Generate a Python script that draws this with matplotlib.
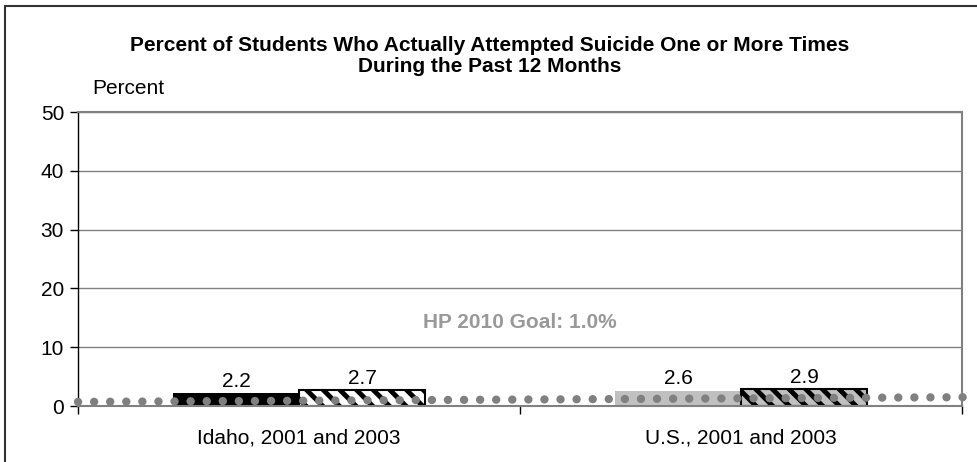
import numpy as np
import matplotlib
matplotlib.use("Agg")
import matplotlib.pyplot as plt
from matplotlib.patches import Rectangle

# Chart data
categories = ["Idaho, 2001 and 2003", "U.S., 2001 and 2003"]
values_2001 = [2.2, 2.6]
values_2003 = [2.7, 2.9]
goal_line = [0.7, 1.5]   # dotted HP 2010 goal line, left and right end
goal_label = "HP 2010 Goal: 1.0%"
title = ("Percent of Students Who Actually Attempted Suicide One or More Times\n"
         "During the Past 12 Months")
y_ticks = [0, 10, 20, 30, 40, 50]

plt.rcParams["font.family"] = ["Liberation Sans", "DejaVu Sans"]
plt.rcParams["hatch.linewidth"] = 3.5

figure = plt.figure(figsize=(9.77, 4.62), dpi=100)
axes = figure.add_axes([78/977, 56/462, 884/977, 294/462])

# Outer border of the chart (only top and left edges are visible)
figure.patches.append(Rectangle((5/977, -0.1), 1.2, (462-6)/462 + 0.1,
                                transform=figure.transFigure, fill=False,
                                edgecolor="#333333", linewidth=1.5))

x = np.arange(len(categories))
width = 0.285

# Bars
axes.bar(x[0] - width/2, values_2001[0], width, color="black", zorder=2)
axes.bar(x[0] + width/2, values_2003[0], width, color="white", edgecolor="black",
         linewidth=1.5, hatch="\\\\", zorder=2)
axes.bar(x[1] - width/2, values_2001[1], width, color="#c0c0c0", zorder=2)
axes.bar(x[1] + width/2, values_2003[1], width, color="#c0c0c0", edgecolor="black",
         linewidth=1.5, hatch="\\\\", zorder=2)

# Value labels
for i in range(len(categories)):
    axes.text(x[i] - width/2, values_2001[i] + 0.4, f"{values_2001[i]:.1f}",
              ha="center", va="bottom", fontsize=15)
    axes.text(x[i] + width/2, values_2003[i] + 0.4, f"{values_2003[i]:.1f}",
              ha="center", va="bottom", fontsize=15)

axes.set_xlim(-0.5, 1.5)
axes.set_ylim(0, 50)

# Goal line
axes.plot([-0.5, 1.51], goal_line, color="#808080", linewidth=6,
          linestyle=(0, (0.01, 1.92)), dash_capstyle="round", zorder=3, clip_on=False)
axes.text(0.5, 14.2, goal_label, ha="center", va="center", fontsize=15,
          fontweight="bold", color="#999999")

# Grid and spines
axes.set_yticks(y_ticks)
axes.set_yticklabels([str(t) for t in y_ticks], fontsize=15)
axes.yaxis.grid(True, color="#808080", linewidth=1)
axes.set_axisbelow(True)
axes.tick_params(axis="y", direction="out", length=6, width=1, color="black", pad=4)

axes.set_xticks([-0.5, 0.5, 1.5])
axes.set_xticklabels([])
axes.set_xticks(x, minor=True)
axes.set_xticklabels(categories, minor=True, fontsize=15)
axes.tick_params(axis="x", which="major", direction="out", length=6, width=1, color="black")
axes.tick_params(axis="x", which="minor", length=0, pad=16)

axes.spines["left"].set_color("black")
axes.spines["left"].set_linewidth(1)
for side in ["top", "right", "bottom"]:
    axes.spines[side].set_color("#808080")
    axes.spines[side].set_linewidth(1.5)

figure.text(490/977, 1 - 56/462, title, ha="center", va="center",
            fontsize=15, fontweight="bold", linespacing=1.1)
figure.text(92/977, 1 - 89/462, "Percent", ha="left", va="center", fontsize=15)

figure.savefig("out.png", dpi=100)
